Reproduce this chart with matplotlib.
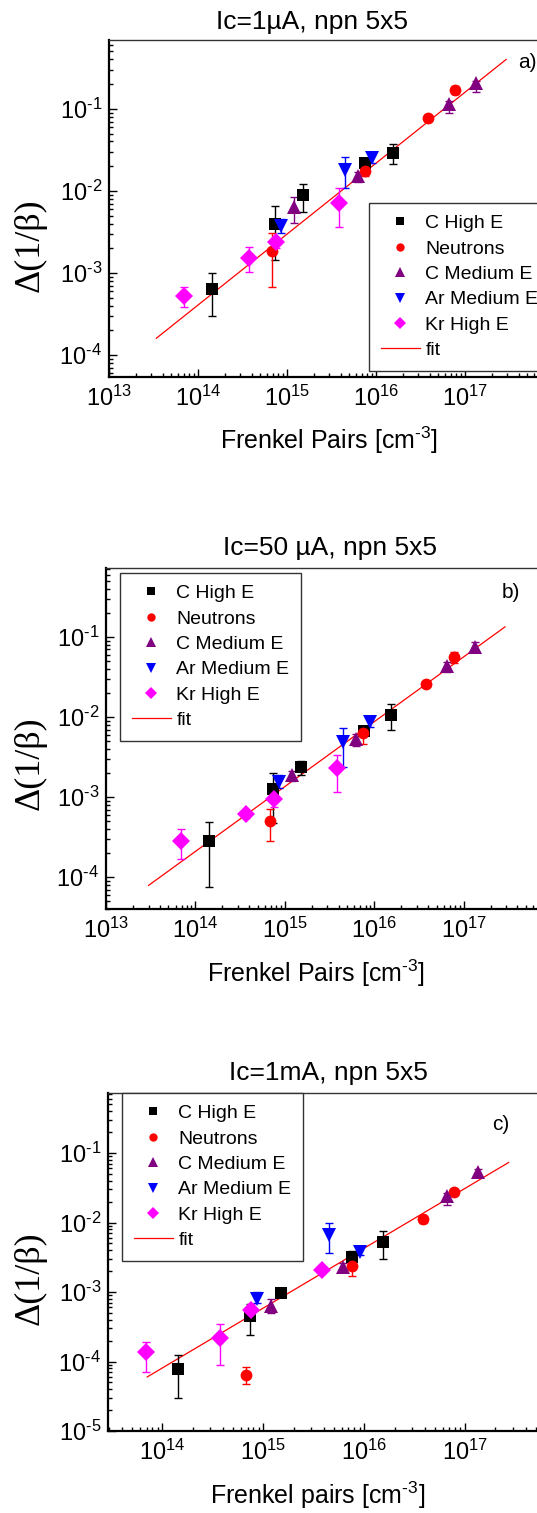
import numpy as np
import matplotlib
matplotlib.use("Agg")
import matplotlib.pyplot as plt
from matplotlib.ticker import LogLocator, NullFormatter, FuncFormatter
from matplotlib.lines import Line2D

plt.rcParams['font.family'] = ['Liberation Sans', 'DejaVu Sans']
plt.rcParams['mathtext.fontset'] = 'custom'
plt.rcParams['mathtext.rm'] = 'Liberation Sans'
plt.rcParams['mathtext.it'] = 'Liberation Sans:italic'

# ---------------- data ----------------
series_names = ["C High E", "Neutrons", "C Medium E", "Ar Medium E", "Kr High E"]
series_colors = ["#000000", "#FF0000", "#800080", "#0000FF", "#FF00FF"]
series_markers = ["s", "o", "^", "v", "D"]

x_chigh = [1.43e14, 7.4e14, 1.5e15, 7.6e15, 1.55e16]
x_neut = [6.8e14, 7.5e15, 3.8e16, 7.8e16]
x_cmed = [1.2e15, 6.2e15, 6.6e16, 1.33e17]
x_ar = [8.6e14, 4.5e15, 9.0e15]
x_kr = [6.9e13, 3.7e14, 7.5e14, 3.85e15]

# panel a) Ic=1uA
a_chigh_y = [6.4e-4, 4.0e-3, 8.8e-3, 2.18e-2, 2.93e-2]
a_chigh_lo = [3.0e-4, 1.45e-3, 5.6e-3, 1.95e-2, 2.11e-2]
a_chigh_hi = [9.9e-4, 6.6e-3, 1.2e-2, 2.4e-2, 3.74e-2]
a_neut_y = [1.85e-3, 1.77e-2, 7.7e-2, 0.169]
a_neut_lo = [6.8e-4, 1.5e-2, 7.2e-2, 0.15]
a_neut_hi = [3.05e-3, 2.1e-2, 8.2e-2, 0.19]
a_cmed_y = [6.4e-3, 1.5e-2, 0.115, 0.206]
a_cmed_lo = [4.1e-3, 1.3e-2, 0.09, 0.16]
a_cmed_hi = [8.5e-3, 1.7e-2, 0.125, 0.22]
a_ar_y = [3.7e-3, 1.8e-2, 2.5e-2]
a_ar_lo = [3.1e-3, 1.09e-2, 2.2e-2]
a_ar_hi = [4.6e-3, 2.57e-2, 2.8e-2]
a_kr_y = [5.3e-4, 1.54e-3, 2.37e-3, 7.2e-3]
a_kr_lo = [3.9e-4, 1.03e-3, 2.0e-3, 3.6e-3]
a_kr_hi = [6.7e-4, 2.06e-3, 2.7e-3, 1.07e-2]
a_fit_x = [3.4e13, 2.9e17]
a_fit_y = [1.6e-4, 0.40]

# panel b) Ic=50uA
b_chigh_y = [2.8e-4, 1.25e-3, 2.4e-3, 6.7e-3, 1.06e-2]
b_chigh_lo = [7.5e-5, 4.8e-4, 1.9e-3, 6.0e-3, 6.9e-3]
b_chigh_hi = [4.9e-4, 1.98e-3, 2.8e-3, 7.4e-3, 1.44e-2]
b_neut_y = [5.0e-4, 6.25e-3, 2.6e-2, 5.7e-2]
b_neut_lo = [2.8e-4, 4.6e-3, 2.4e-2, 4.8e-2]
b_neut_hi = [7.2e-4, 7.6e-3, 2.8e-2, 6.5e-2]
b_cmed_y = [1.9e-3, 5.3e-3, 4.3e-2, 7.6e-2]
b_cmed_lo = [1.6e-3, 4.3e-3, 3.7e-2, 6.6e-2]
b_cmed_hi = [2.1e-3, 6.1e-3, 4.9e-2, 8.6e-2]
b_ar_y = [1.54e-3, 4.9e-3, 8.7e-3]
b_ar_lo = [1.3e-3, 2.4e-3, 7.6e-3]
b_ar_hi = [1.9e-3, 7.4e-3, 1.0e-2]
b_kr_y = [2.8e-4, 6.1e-4, 9.4e-4, 2.3e-3]
b_kr_lo = [1.7e-4, 5.5e-4, 7.6e-4, 1.15e-3]
b_kr_hi = [4.0e-4, 6.7e-4, 1.3e-3, 3.4e-3]
b_fit_x = [3.0e13, 2.9e17]
b_fit_y = [7.9e-5, 0.134]

# panel c) Ic=1mA
c_chigh_y = [7.8e-5, 4.55e-4, 9.8e-4, 3.24e-3, 5.3e-3]
c_chigh_lo = [3.0e-5, 2.37e-4, 8.8e-4, 2.3e-3, 3.0e-3]
c_chigh_hi = [1.22e-4, 6.8e-4, 1.1e-3, 3.9e-3, 7.6e-3]
c_neut_y = [6.3e-5, 2.4e-3, 1.11e-2, 2.78e-2]
c_neut_lo = [4.7e-5, 1.7e-3, 1.0e-2, 2.5e-2]
c_neut_hi = [8.3e-5, 2.9e-3, 1.2e-2, 3.0e-2]
c_cmed_y = [6.3e-4, 2.3e-3, 2.44e-2, 5.3e-2]
c_cmed_lo = [5.0e-4, 2.0e-3, 1.8e-2, 4.8e-2]
c_cmed_hi = [8.0e-4, 2.6e-3, 2.7e-2, 5.8e-2]
c_ar_y = [7.9e-4, 6.6e-3, 3.8e-3]
c_ar_lo = [7.0e-4, 3.7e-3, 3.4e-3]
c_ar_hi = [1.0e-3, 1.0e-2, 4.6e-3]
c_kr_y = [1.35e-4, 2.18e-4, 5.5e-4, 2.1e-3]
c_kr_lo = [7.0e-5, 8.8e-5, 4.2e-4, 1.9e-3]
c_kr_hi = [1.9e-4, 3.46e-4, 6.8e-4, 2.3e-3]
c_fit_x = [7.1e13, 2.7e17]
c_fit_y = [6.0e-5, 0.073]

HY = "\u2010"  # typographic hyphen, as in the reference (not a wide minus)
titles = ["Ic=1\u00b5A, npn 5x5", "Ic=50 \u00b5A, npn 5x5", "Ic=1mA, npn 5x5"]
xlabels = ["Frenkel Pairs [cm$^{\\mathregular{%s3}}$]" % HY,
           "Frenkel Pairs [cm$^{\\mathregular{%s3}}$]" % HY,
           "Frenkel pairs [cm$^{\\mathregular{%s3}}$]" % HY]
ylabel = "\u0394(1/\u03b2)"
panel_tags = ["a)", "b)", "c)"]

# ---------------- layout (pixels) ----------------
W, H = 537, 1513
fig = plt.figure(figsize=(W / 100, H / 100), dpi=100)

def fx(px):
    return px / W

def fy(py):
    return 1 - py / H

panels = [
    dict(rect=(109, 40, 554, 377), xlim=(1e13, 1e18), ylim=(5.4e-5, 0.69),
         title_xy=(312, 22), xlabel_xy=(329, 440), ylabel_xy=(30, 245),
         tag_xy=(527, 63), leg_xy=(369, 203),
         data=[(x_chigh, a_chigh_y, a_chigh_lo, a_chigh_hi),
               (x_neut, a_neut_y, a_neut_lo, a_neut_hi),
               (x_cmed, a_cmed_y, a_cmed_lo, a_cmed_hi),
               (x_ar, a_ar_y, a_ar_lo, a_ar_hi),
               (x_kr, a_kr_y, a_kr_lo, a_kr_hi)],
         fit=(a_fit_x, a_fit_y)),
    dict(rect=(106, 568, 553, 909), xlim=(1e13, 1e18), ylim=(4.0e-5, 0.73),
         title_xy=(330, 548), xlabel_xy=(316, 973), ylabel_xy=(30, 763),
         tag_xy=(511, 593), leg_xy=(120, 573),
         data=[(x_chigh, b_chigh_y, b_chigh_lo, b_chigh_hi),
               (x_neut, b_neut_y, b_neut_lo, b_neut_hi),
               (x_cmed, b_cmed_y, b_cmed_lo, b_cmed_hi),
               (x_ar, b_ar_y, b_ar_lo, b_ar_hi),
               (x_kr, b_kr_y, b_kr_lo, b_kr_hi)],
         fit=(b_fit_x, b_fit_y)),
    dict(rect=(108, 1093, 566, 1431), xlim=(2.9e13, 1e18), ylim=(1e-5, 0.73),
         title_xy=(328, 1073), xlabel_xy=(318, 1495), ylabel_xy=(30, 1278),
         tag_xy=(501, 1125), leg_xy=(122, 1093),
         data=[(x_chigh, c_chigh_y, c_chigh_lo, c_chigh_hi),
               (x_neut, c_neut_y, c_neut_lo, c_neut_hi),
               (x_cmed, c_cmed_y, c_cmed_lo, c_cmed_hi),
               (x_ar, c_ar_y, c_ar_lo, c_ar_hi),
               (x_kr, c_kr_y, c_kr_lo, c_kr_hi)],
         fit=(c_fit_x, c_fit_y)),
]

def sci_fmt(v, pos):
    if v <= 0:
        return ""
    e = int(np.round(np.log10(v)))
    if e >= 18:
        return ""
    es = (HY + str(-e)) if e < 0 else str(e)
    return "$\\mathregular{10^{%s}}$" % es

for i, p in enumerate(panels):
    l, t, r, b = p["rect"]
    ax = fig.add_axes([fx(l), fy(b), (r - l) / W, (b - t) / H])
    ax.set_xscale("log")
    ax.set_yscale("log")
    ax.set_xlim(*p["xlim"])
    ax.set_ylim(*p["ylim"])

    fx_, fy_ = p["fit"]
    ax.plot(fx_, fy_, color="#FF0000", lw=0.9, zorder=2)

    handles = []
    for (xs, ys, lo, hi), name, col, mk in zip(p["data"], series_names, series_colors, series_markers):
        xs = np.array(xs); ys = np.array(ys); lo = np.array(lo); hi = np.array(hi)
        ax.errorbar(xs, ys, yerr=[ys - lo, hi - ys], fmt="none", ecolor=col,
                    elinewidth=1.0, capsize=3.2, capthick=1.0, zorder=3)
        ms = {"D": 9.5, "^": 10.0, "v": 10.0}.get(mk, 8.5)
        ax.plot(xs, ys, ls="none", marker=mk, color=col, markersize=ms,
                markeredgewidth=0, zorder=4)
        handles.append(Line2D([], [], ls="none", marker=mk, color=col,
                              markersize=6.5 if mk in "^v" else 6,
                              markeredgewidth=0, label=name))
    handles.append(Line2D([], [], color="#FF0000", lw=0.9, label="fit"))

    # axes styling
    for s in ["left", "bottom"]:
        ax.spines[s].set_linewidth(1.6)
    ax.spines["top"].set_linewidth(1.0)
    ax.spines["top"].set_color("#333333")
    ax.spines["right"].set_visible(False)
    ax.xaxis.set_major_locator(LogLocator(base=10, numticks=20))
    ax.xaxis.set_minor_locator(LogLocator(base=10, subs=np.arange(2, 10), numticks=20))
    ax.yaxis.set_major_locator(LogLocator(base=10, numticks=20))
    ax.yaxis.set_minor_locator(LogLocator(base=10, subs=np.arange(2, 10), numticks=20))
    ax.xaxis.set_major_formatter(FuncFormatter(sci_fmt))
    ax.yaxis.set_major_formatter(FuncFormatter(sci_fmt))
    ax.xaxis.set_minor_formatter(NullFormatter())
    ax.yaxis.set_minor_formatter(NullFormatter())
    ax.tick_params(which="both", direction="in", top=False, right=False,
                   labelsize=17, width=1.0)
    ax.tick_params(which="major", length=5.5)
    ax.tick_params(which="minor", length=3.0)
    ax.tick_params(axis="x", which="major", pad=6)
    ax.tick_params(axis="y", which="major", pad=5)

    leg = ax.legend(handles=handles, loc="upper left",
                    bbox_to_anchor=(fx(p["leg_xy"][0]), fy(p["leg_xy"][1])),
                    bbox_transform=fig.transFigure, borderaxespad=0,
                    fontsize=14, frameon=True, fancybox=False, framealpha=1,
                    edgecolor="#333333", borderpad=0.6, labelspacing=0.4,
                    handlelength=2.0, handletextpad=0.3)
    leg.get_frame().set_linewidth(1.0)

    fig.text(fx(p["title_xy"][0]), fy(p["title_xy"][1]), titles[i], ha="center",
             va="center", fontsize=19)
    fig.text(fx(p["xlabel_xy"][0]), fy(p["xlabel_xy"][1]), xlabels[i], ha="center",
             va="center", fontsize=18)
    fig.text(fx(p["ylabel_xy"][0]), fy(p["ylabel_xy"][1]), ylabel, ha="center",
             va="center", rotation=90, fontsize=26, family=["Liberation Serif", "DejaVu Serif"])
    fig.text(fx(p["tag_xy"][0]), fy(p["tag_xy"][1]), panel_tags[i], ha="center",
             va="center", fontsize=15)

fig.savefig("out.png", dpi=100)
